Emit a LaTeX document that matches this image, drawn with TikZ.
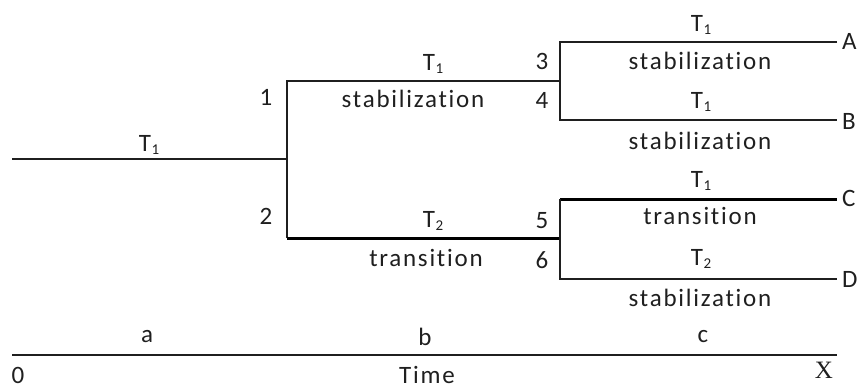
\documentclass[tikz,border=0pt]{standalone}
\usepackage{fontspec}
\setmainfont{Carlito}[LetterSpace=7,Ligatures=NoCommon]
\newfontfamily\serifX{Liberation Serif}
\newcommand{\Tsub}[1]{T\kern0.5pt\raisebox{-3pt}{\fontsize{15}{15}\selectfont #1}}
\definecolor{ink}{gray}{0.12}
\tikzset{
  lbl/.style={font=\fontsize{25}{28}\selectfont, inner sep=0pt, text=ink},
  thinln/.style={line width=1.4pt, draw=ink},
  boldln/.style={line width=3pt, draw=black},
}
\begin{document}
\begin{tikzpicture}[x=1pt,y=-1pt]
\useasboundingbox (0,0) rectangle (867,389);
% coordinates
\coordinate (o) at (12,159);
\coordinate (p) at (287,159);
\coordinate (p1) at (287,81);
\coordinate (p2) at (287,238);
\coordinate (q1) at (560,81);
\coordinate (q2) at (560,238);
\coordinate (a1) at (560,42);
\coordinate (a2) at (560,120);
\coordinate (c1) at (560,199);
\coordinate (c2) at (560,279);
\coordinate (ea) at (837,42);
\coordinate (eb) at (837,120);
\coordinate (ec) at (837,199);
\coordinate (ed) at (837,279);
\coordinate (ax0) at (12,355);
\coordinate (ax1) at (837,355);
% end labels
\node[lbl, anchor=west] (A) at (842,41) {A};
\node[lbl, anchor=west] (B) at (842,121) {B};
\node[lbl, anchor=west] (C) at (842,198) {C};
\node[lbl, anchor=west] (D) at (842,279) {D};
% lines
\draw[thinln] (o) -- (p);
\draw[thinln] (q1) -- (p1) -- (p2);
\draw[boldln] (p2) -- (q2);
\draw[thinln] (ea) -- (a1) -- (a2) -- (eb);
\draw[boldln] (c1) -- (ec);
\draw[thinln] (c1) -- (c2) -- (ed);
\draw[thinln] (ax0) -- (ax1);
% labels
\node[lbl] (t0) at (149,145) {\Tsub1};
\node[lbl] (n1) at (266,97) {1};
\node[lbl] (n2) at (266,216) {2};
\node[lbl] (tm1) at (433,64) {\Tsub1};
\node[lbl] (sm1) at (413,99) {stabilization};
\node[lbl] (n3) at (542,61) {3};
\node[lbl] (n4) at (542,100) {4};
\node[lbl] (tm2) at (433,221) {\Tsub2};
\node[lbl] (sm2) at (426,258) {transition};
\node[lbl] (n5) at (542,221) {5};
\node[lbl] (n6) at (542,260) {6};
\node[lbl] (tr1) at (701,25) {\Tsub1};
\node[lbl] (sr1) at (700,61) {stabilization};
\node[lbl] (tr2) at (701,102) {\Tsub1};
\node[lbl] (sr2) at (700,141) {stabilization};
\node[lbl] (tr3) at (701,181) {\Tsub1};
\node[lbl] (sr3) at (700,216) {transition};
\node[lbl] (tr4) at (701,259) {\Tsub2};
\node[lbl] (sr4) at (700,298) {stabilization};
\node[lbl] (la) at (147,337) {a};
\node[lbl] (lb) at (425,337) {b};
\node[lbl] (lc) at (703,337) {c};
\node[lbl] (l0) at (18,375) {0};
\node[lbl] (lt) at (427,375) {Time};
\node[inner sep=0pt, text=ink, font=\serifX\fontsize{25}{25}\selectfont] (lx) at (824,370) {X};
\end{tikzpicture}
\end{document}
